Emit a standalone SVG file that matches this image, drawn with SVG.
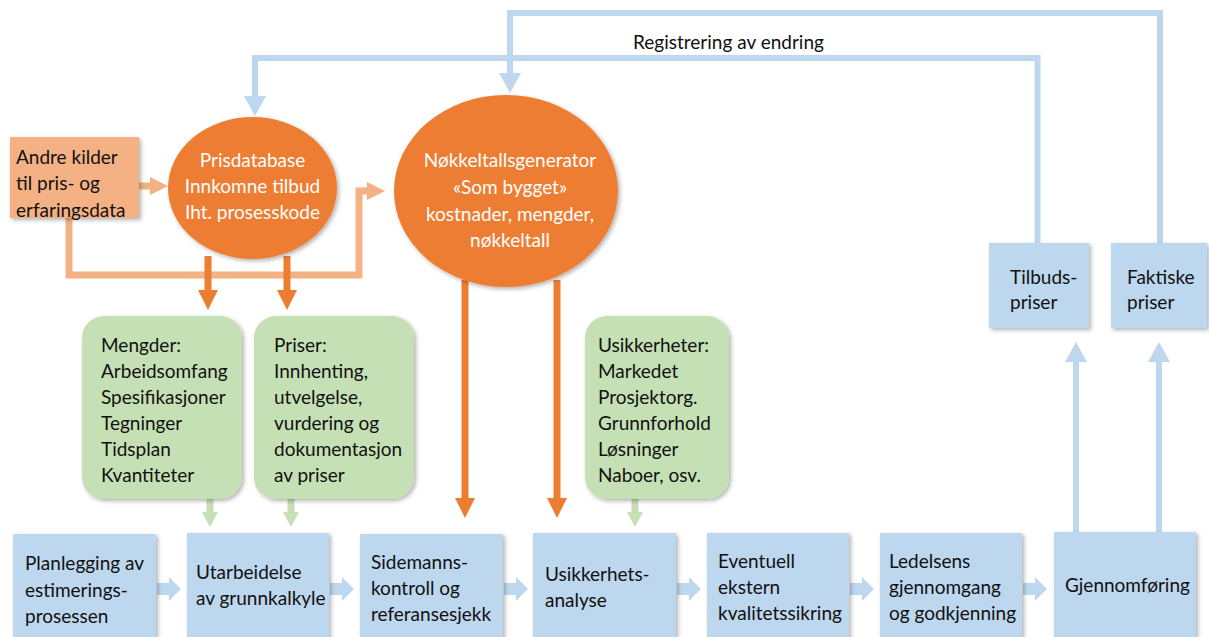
<svg xmlns="http://www.w3.org/2000/svg" width="1209" height="637" viewBox="0 0 1209 637">
<style>
text{font-family:Lato,"Liberation Sans",sans-serif;font-size:19px;fill:#111}
.w{fill:#fff}
.c{text-anchor:middle}
.blue{fill:#BDD7EE}
.green{fill:#C5E0B4}
.orange{fill:#ED7D31}
.peach{fill:#F4B183}
.lb{stroke:#BDD7EE;fill:none;stroke-width:6}
.lbf{stroke:#BDD7EE;fill:none;stroke-width:12}
.lo{stroke:#ED7D31;fill:none;stroke-width:7}
.lp{stroke:#F4B183;fill:none;stroke-width:7}
.lg{stroke:#C5E0B4;fill:none;stroke-width:7}
</style>
<defs>
<filter id="sh" x="-10%" y="-10%" width="130%" height="130%">
<feDropShadow dx="2" dy="2" stdDeviation="2" flood-color="#000" flood-opacity="0.3"/>
</filter>
<marker id="ho" markerUnits="userSpaceOnUse" markerWidth="20" markerHeight="20" refX="0" refY="10" orient="auto" overflow="visible"><path d="M0,0 L20,10 L0,20z" fill="#ED7D31"/></marker>
<marker id="hp" markerUnits="userSpaceOnUse" markerWidth="18" markerHeight="18" refX="0" refY="9" orient="auto" overflow="visible"><path d="M0,0 L18,9 L0,18z" fill="#F4B183"/></marker>
<marker id="hb" markerUnits="userSpaceOnUse" markerWidth="22" markerHeight="22" refX="0" refY="11" orient="auto" overflow="visible"><path d="M0,0 L20,11 L0,22z" fill="#BDD7EE"/></marker>
<marker id="hbf" markerUnits="userSpaceOnUse" markerWidth="12" markerHeight="24" refX="0" refY="12" orient="auto" overflow="visible"><path d="M0,0 L12,12 L0,24z" fill="#BDD7EE"/></marker>
<marker id="hg" markerUnits="userSpaceOnUse" markerWidth="15" markerHeight="16" refX="0" refY="8" orient="auto" overflow="visible"><path d="M0,0 L15,8 L0,16z" fill="#C5E0B4"/></marker>
</defs>
<rect width="1209" height="637" fill="#fff"/>

<g id="connectors">
<!-- feedback lines -->
<path class="lb" d="M1160,243 V13 H510 V73" marker-end="url(#hb)"/>
<path class="lb" d="M1037.5,243 V58 H255 V96" marker-end="url(#hb)"/>
<!-- peach -->
<path class="lp" d="M139,186 H150" stroke-width="8" marker-end="url(#hp)"/>
<path class="lp" d="M69,218 V275 H359 V191 H367" marker-end="url(#hp)"/>
<!-- orange -->
<path class="lo" d="M208,256 V290" marker-end="url(#ho)"/>
<path class="lo" d="M287,256 V290" marker-end="url(#ho)"/>
<path class="lo" d="M465,280 V498" marker-end="url(#ho)"/>
<path class="lo" d="M557,280 V498" marker-end="url(#ho)"/>
<!-- green -->
<path class="lg" d="M210,499 V512" marker-end="url(#hg)"/>
<path class="lg" d="M291,499 V512" marker-end="url(#hg)"/>
<path class="lg" d="M635,499 V512" marker-end="url(#hg)"/>
<!-- blue row arrows -->
<path class="lbf" d="M157,589 H169" marker-end="url(#hbf)"/>
<path class="lbf" d="M330,589 H342" marker-end="url(#hbf)"/>
<path class="lbf" d="M504,589 H516" marker-end="url(#hbf)"/>
<path class="lbf" d="M677,589 H689" marker-end="url(#hbf)"/>
<path class="lbf" d="M850,589 H862" marker-end="url(#hbf)"/>
<path class="lbf" d="M1023,589 H1035" marker-end="url(#hbf)"/>
<!-- up arrows -->
<path class="lb" d="M1076,532 V362" stroke-width="7" marker-end="url(#hb)"/>
<path class="lb" d="M1159,532 V362" stroke-width="7" marker-end="url(#hb)"/>
</g>

<text x="633" y="49" font-size="18">Registrering av endring</text>

<g id="andre">
<rect class="peach" x="10" y="137" width="129" height="81" filter="url(#sh)"/>
<text x="16" y="164">Andre kilder</text>
<text x="16" y="190">til pris- og</text>
<text x="16" y="217">erfaringsdata</text>
</g>

<g id="prisdatabase">
<ellipse class="orange" cx="252.5" cy="188" rx="84.5" ry="71" filter="url(#sh)"/>
<text class="w c" x="252.5" y="167">Prisdatabase</text>
<text class="w c" x="252.5" y="193">Innkomne tilbud</text>
<text class="w c" x="252.5" y="219">Iht. prosesskode</text>
</g>

<g id="nokkeltall">
<ellipse class="orange" cx="506" cy="191" rx="112" ry="96" filter="url(#sh)"/>
<text class="w c" x="510" y="167">Nøkkeltallsgenerator</text>
<text class="w c" x="510" y="194">«Som bygget»</text>
<text class="w c" x="510" y="221">kostnader, mengder,</text>
<text class="w c" x="510" y="247">nøkkeltall</text>
</g>

<g id="tilbud">
<rect class="blue" x="989" y="243" width="100" height="85" filter="url(#sh)"/>
<text x="1010" y="284">Tilbuds-</text>
<text x="1010" y="309">priser</text>
</g>
<g id="faktiske">
<rect class="blue" x="1111" y="243" width="96" height="85" filter="url(#sh)"/>
<text x="1127" y="284">Faktiske</text>
<text x="1127" y="309">priser</text>
</g>

<g id="mengder">
<rect class="green" x="82" y="316" width="160" height="183" rx="22" filter="url(#sh)"/>
<text x="101" y="352">Mengder:</text>
<text x="101" y="378">Arbeidsomfang</text>
<text x="101" y="404">Spesifikasjoner</text>
<text x="101" y="430">Tegninger</text>
<text x="101" y="456">Tidsplan</text>
<text x="101" y="482">Kvantiteter</text>
</g>
<g id="priser">
<rect class="green" x="254" y="316" width="160" height="183" rx="22" filter="url(#sh)"/>
<text x="274" y="352">Priser:</text>
<text x="274" y="378">Innhenting,</text>
<text x="274" y="404">utvelgelse,</text>
<text x="274" y="430">vurdering og</text>
<text x="274" y="456">dokumentasjon</text>
<text x="274" y="482">av priser</text>
</g>
<g id="usikkerheter">
<rect class="green" x="585" y="316" width="144" height="183" rx="22" filter="url(#sh)"/>
<text x="598" y="352">Usikkerheter:</text>
<text x="598" y="378">Markedet</text>
<text x="598" y="404">Prosjektorg.</text>
<text x="598" y="430">Grunnforhold</text>
<text x="598" y="456">Løsninger</text>
<text x="598" y="482">Naboer, osv.</text>
</g>

<g id="planlegging">
<rect class="blue" x="13" y="534" width="143" height="110" filter="url(#sh)"/>
<text x="25" y="570">Planlegging av</text>
<text x="25" y="597">estimerings-</text>
<text x="25" y="623">prosessen</text>
</g>
<g id="utarbeidelse">
<rect class="blue" x="187" y="533" width="142" height="110" filter="url(#sh)"/>
<text x="196" y="579">Utarbeidelse</text>
<text x="196" y="605">av grunnkalkyle</text>
</g>
<g id="sidemanns">
<rect class="blue" x="360" y="534" width="143" height="110" filter="url(#sh)"/>
<text x="371" y="569">Sidemanns-</text>
<text x="371" y="595">kontroll og</text>
<text x="371" y="621">referansesjekk</text>
</g>
<g id="usikkerhetsanalyse">
<rect class="blue" x="533" y="533" width="143" height="110" filter="url(#sh)"/>
<text x="545" y="581">Usikkerhets-</text>
<text x="545" y="607">analyse</text>
</g>
<g id="eventuell">
<rect class="blue" x="707" y="533" width="142" height="110" filter="url(#sh)"/>
<text x="718" y="568">Eventuell</text>
<text x="718" y="594">ekstern</text>
<text x="718" y="620">kvalitetssikring</text>
</g>
<g id="ledelsens">
<rect class="blue" x="880" y="533" width="142" height="110" filter="url(#sh)"/>
<text x="889" y="568">Ledelsens</text>
<text x="889" y="594">gjennomgang</text>
<text x="889" y="620">og godkjenning</text>
</g>
<g id="gjennomforing">
<rect class="blue" x="1054" y="532" width="142" height="110" filter="url(#sh)"/>
<text x="1065" y="592">Gjennomføring</text>
</g>
</svg>
